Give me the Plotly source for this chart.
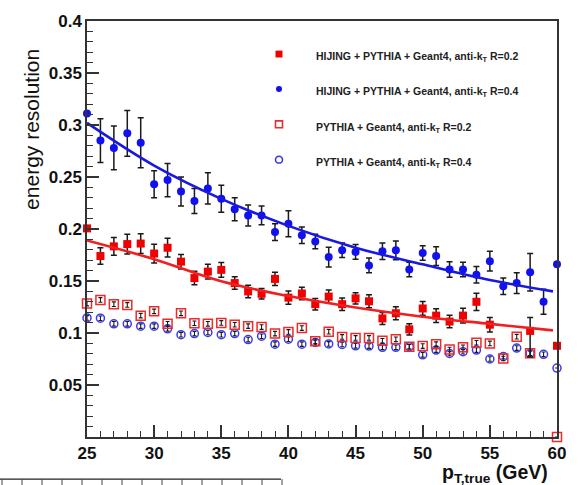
import plotly.graph_objects as go

# ---------------- data ----------------
pt = list(range(25, 61))

hijing_r04 = [0.311, 0.285, 0.278, 0.292, 0.283, 0.243, 0.247, 0.236, 0.227, 0.239,
              0.229, 0.219, 0.213, 0.213, 0.197, 0.205, 0.194, 0.188, 0.173, 0.1795,
              0.178, 0.165, 0.1786, 0.1795, 0.161, 0.177, 0.174, 0.161, 0.161, 0.156,
              0.169, 0.145, 0.148, 0.1585, 0.130, 0.166]
hijing_r04_err = [0.0, 0.021, 0.021, 0.022, 0.024, 0.013, 0.016, 0.014, 0.012, 0.015,
                  0.013, 0.011, 0.010, 0.009, 0.008, 0.0125, 0.008, 0.007, 0.0095, 0.007,
                  0.007, 0.007, 0.008, 0.009, 0.007, 0.007, 0.009, 0.0075, 0.007, 0.008,
                  0.0095, 0.008, 0.010, 0.018, 0.012, 0.0]

hijing_r02 = [0.2006, 0.174, 0.1833, 0.1855, 0.186, 0.1764, 0.182, 0.1686, 0.1528, 0.159,
              0.1607, 0.148, 0.140, 0.1377, 0.152, 0.134, 0.138, 0.1277, 0.135, 0.1277,
              0.1333, 0.1305, 0.114, 0.119, 0.1035, 0.1236, 0.1167, 0.111, 0.1167, 0.130,
              0.108, None, None, 0.102, None, 0.0877]
hijing_r02_err = [0.0, 0.008, 0.0085, 0.0095, 0.0095, 0.009, 0.009, 0.007, 0.0065, 0.007,
                  0.007, 0.006, 0.006, 0.005, 0.0063, 0.0063, 0.006, 0.0055, 0.0063, 0.006,
                  0.0055, 0.0062, 0.0058, 0.0063, 0.0055, 0.0066, 0.0067, 0.006, 0.007, 0.0083,
                  0.007, 0.0, 0.0, 0.013, 0.0, 0.0]
hijing_r02_errminus = [0.0, 0.008, 0.0085, 0.0095, 0.0095, 0.009, 0.009, 0.007, 0.0065, 0.007,
                       0.007, 0.006, 0.006, 0.005, 0.0063, 0.0063, 0.006, 0.0055, 0.0063, 0.006,
                       0.0055, 0.0062, 0.0058, 0.0063, 0.0055, 0.0066, 0.0067, 0.006, 0.007, 0.0083,
                       0.007, 0.0, 0.0, 0.025, 0.0, 0.0]

pythia_r02 = [0.1283, 0.1318, 0.1277, 0.127, 0.1167, 0.1208, 0.1088, 0.1189, 0.1094, 0.1088,
              0.1097, 0.1079, 0.1066, 0.1057, 0.0994, 0.101, 0.1047, 0.0921, 0.1013, 0.0962,
              0.0953, 0.0953, 0.0925, 0.094, 0.0868, 0.0874, 0.0893, 0.0841, 0.0862, 0.0906,
              0.090, 0.0755, 0.0965, 0.0805, None, 0.0]
pythia_r02_err = [0.0022] * 35 + [0.0]

pythia_r04 = [0.1145, 0.1142, 0.1088, 0.1088, 0.1066, 0.1066, 0.104, 0.0984, 0.0994, 0.1005,
              0.0984, 0.0994, 0.0937, 0.0969, 0.0893, 0.094, 0.0893, 0.0909, 0.0895, 0.089,
              0.0877, 0.0874, 0.0862, 0.0862, 0.0868, 0.079, 0.0836, 0.0803, 0.082, 0.0836,
              0.075, 0.0774, 0.0855, 0.0805, 0.0795, 0.0663]
pythia_r04_err = [0.0022] * 35 + [0.0]

fit_x = [25, 30, 35, 40, 45, 50, 55, 59.7]
fit_r04 = [0.302, 0.261, 0.229, 0.203, 0.182, 0.166, 0.151, 0.140]
fit_r02 = [0.189, 0.171, 0.1497, 0.1355, 0.1245, 0.1157, 0.1088, 0.1025]

x_ticks = [25, 30, 35, 40, 45, 50, 55, 60]
y_ticks = [0.05, 0.1, 0.15, 0.2, 0.25, 0.3, 0.35, 0.4]
y_tick_text = ["0.05", "0.1", "0.15", "0.2", "0.25", "0.3", "0.35", "0.4"]

legend_labels = [
    "HIJING + PYTHIA + Geant4, anti-k<sub>T</sub> R=0.2",
    "HIJING + PYTHIA + Geant4, anti-k<sub>T</sub> R=0.4",
    "PYTHIA + Geant4, anti-k<sub>T</sub> R=0.2",
    "PYTHIA + Geant4, anti-k<sub>T</sub> R=0.4",
]

# ---------------- styling ----------------
W_FIG, H_FIG = 578, 485
ML, MR, MT, MB = 87, 21, 13, 48
PW = W_FIG - ML - MR
PH = H_FIG - MT - MB
FONT = "Liberation Sans, Arial, sans-serif"

RED = "#f00000"
BLUE = "#1010f0"
RED_OPEN = "#ee2a2a"
BLUE_OPEN = "#3a3aee"


def px_x(p):
    return (p - ML) / PW


def px_y(p):
    return (MT + PH - p) / PH


def err(arr, minus=None, thickness=1.5, width=3):
    d = dict(type="data", array=arr, color="#1a1a1a", thickness=thickness, width=width, visible=True)
    if minus is not None:
        d["symmetric"] = False
        d["arrayminus"] = minus
    return d


fig = go.Figure()

# open markers (drawn first)
fig.add_trace(go.Scatter(x=pt, y=pythia_r04, mode="markers", cliponaxis=False,
                         error_y=err(pythia_r04_err, thickness=1.1, width=2),
                         marker=dict(symbol="circle-open", size=8, color=BLUE_OPEN,
                                     line=dict(width=1.5, color=BLUE_OPEN)),
                         showlegend=False))
fig.add_trace(go.Scatter(x=pt, y=pythia_r02, mode="markers", cliponaxis=False,
                         error_y=err(pythia_r02_err, thickness=1.1, width=2),
                         marker=dict(symbol="square-open", size=9, color=RED_OPEN,
                                     line=dict(width=1.5, color=RED_OPEN)),
                         showlegend=False))

# filled markers
fig.add_trace(go.Scatter(x=pt, y=hijing_r02, mode="markers", cliponaxis=False,
                         error_y=err(hijing_r02_err, hijing_r02_errminus),
                         marker=dict(symbol="square", size=8, color=RED),
                         showlegend=False))
fig.add_trace(go.Scatter(x=pt, y=hijing_r04, mode="markers", cliponaxis=False,
                         error_y=err(hijing_r04_err),
                         marker=dict(symbol="circle", size=8, color=BLUE),
                         showlegend=False))

# fit curves
fig.add_trace(go.Scatter(x=fit_x, y=fit_r02, mode="lines", line=dict(color="#f02020", width=2.6, shape="spline"),
                         showlegend=False, hoverinfo="skip"))
fig.add_trace(go.Scatter(x=fit_x, y=fit_r04, mode="lines", line=dict(color="#1818e0", width=2.6, shape="spline"),
                         showlegend=False, hoverinfo="skip"))

tickfont = dict(family=FONT, size=17, color="#111111", weight="bold")

fig.update_xaxes(range=[25, 60], tickvals=x_ticks, ticks="inside", ticklen=12, tickwidth=1.5,
                 tickcolor="#333", showline=True, linecolor="#333", linewidth=1.5, mirror=True,
                 showgrid=False, zeroline=False, tickfont=tickfont,
                 minor=dict(dtick=1, ticks="inside", ticklen=6, tickwidth=1.3, tickcolor="#333"))
fig.update_yaxes(range=[0, 0.4], tickvals=y_ticks, ticktext=y_tick_text, ticks="inside", ticklen=12,
                 tickwidth=1.5, tickcolor="#333", showline=True, linecolor="#333", linewidth=1.5,
                 mirror=True, showgrid=False, zeroline=False, tickfont=tickfont,
                 minor=dict(dtick=0.01, ticks="inside", ticklen=6, tickwidth=1.3, tickcolor="#333"))

annotations = []
# y title
annotations.append(dict(x=px_x(32), y=px_y(124), xref="paper", yref="paper", text="energy resolution",
                        textangle=-90, showarrow=False, xanchor="center", yanchor="middle",
                        font=dict(family=FONT, size=21, color="#111")))
# x title
annotations.append(dict(x=px_x(549), y=px_y(474), xref="paper", yref="paper", borderpad=0,
                        text="p<sub>T,true</sub> (GeV)", showarrow=False, xanchor="right", yanchor="middle",
                        font=dict(family=FONT, size=19.5, color="#111", weight="bold")))

# legend
leg_marker_y = [46.7, 82.3, 118.3, 154.3]
for lab, my in zip(legend_labels, leg_marker_y):
    annotations.append(dict(x=px_x(314), y=px_y(my + 3.5), xref="paper", yref="paper", text=lab,
                            showarrow=False, xanchor="left", yanchor="middle",
                            font=dict(family=FONT, size=10.5, color="#222", weight="bold")))

shapes = []
cx = 279
# filled red square
shapes.append(dict(type="rect", xref="paper", yref="paper", x0=px_x(cx - 3.5), x1=px_x(cx + 3.5),
                   y0=px_y(leg_marker_y[0] + 3.5), y1=px_y(leg_marker_y[0] - 3.5),
                   fillcolor=RED, line=dict(width=0)))
# filled blue circle
shapes.append(dict(type="circle", xref="paper", yref="paper", x0=px_x(cx - 3), x1=px_x(cx + 3),
                   y0=px_y(leg_marker_y[1] + 3), y1=px_y(leg_marker_y[1] - 3),
                   fillcolor=BLUE, line=dict(width=0)))
# open red square
shapes.append(dict(type="rect", xref="paper", yref="paper", x0=px_x(cx - 3.5), x1=px_x(cx + 3.5),
                   y0=px_y(leg_marker_y[2] + 3.5), y1=px_y(leg_marker_y[2] - 3.5),
                   fillcolor="rgba(0,0,0,0)", line=dict(width=1.6, color=RED_OPEN)))
# open blue circle
shapes.append(dict(type="circle", xref="paper", yref="paper", x0=px_x(cx - 3.5), x1=px_x(cx + 3.5),
                   y0=px_y(leg_marker_y[3] + 3.5), y1=px_y(leg_marker_y[3] - 3.5),
                   fillcolor="rgba(0,0,0,0)", line=dict(width=1.6, color=BLUE_OPEN)))

# cropped table edge at the bottom-left of the picture
shapes.append(dict(type="line", xref="paper", yref="paper", x0=px_x(0), x1=px_x(281),
                   y0=px_y(480), y1=px_y(480), line=dict(color="#222", width=1.2)))
for k in range(15):
    xp = 2 + 20 * k
    shapes.append(dict(type="line", xref="paper", yref="paper", x0=px_x(xp), x1=px_x(xp),
                       y0=px_y(480), y1=px_y(486), line=dict(color="#444", width=1)))

fig.update_layout(width=W_FIG, height=H_FIG, margin=dict(l=ML, r=MR, t=MT, b=MB),
                  paper_bgcolor="white", plot_bgcolor="white", showlegend=False,
                  annotations=annotations, shapes=shapes)

fig.write_html("out.html", config={"displayModeBar": False},
               post_script="document.body.style.margin='0';document.body.style.padding='0';"
                           "document.documentElement.style.overflow='hidden';")
